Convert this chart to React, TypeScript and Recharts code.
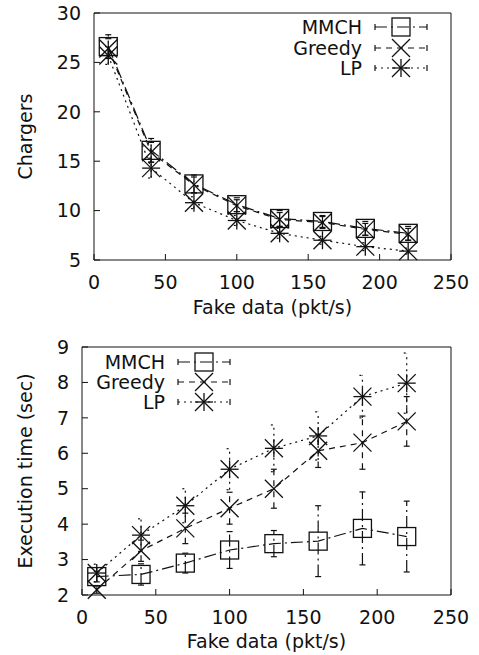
import React from "react";
import { ComposedChart, Line, XAxis, YAxis, ErrorBar, Legend } from "recharts";

// x positions (fake data rate, pkt/s)
const fakeData = [10, 40, 70, 100, 130, 160, 190, 220];

// top panel: number of chargers
const mmchChargers = [26.6, 16.1, 12.7, 10.6, 9.2, 8.9, 8.2, 7.7];
const mmchChargersErr = [1.2, 1.2, 0.9, 0.7, 0.8, 0.6, 0.7, 0.7];
const greedyChargers = [26.4, 15.9, 12.6, 10.5, 9.1, 8.8, 8.1, 7.6];
const greedyChargersErr = [1.0, 1.0, 0.8, 0.6, 0.7, 0.6, 0.6, 0.6];
const lpChargers = [25.7, 14.3, 10.8, 9.0, 7.7, 7.0, 6.35, 5.9];
const lpChargersErr = [0.9, 1.0, 0.6, 0.5, 0.5, 0.4, 0.4, 0.3];

// bottom panel: execution time (sec)
const mmchTime = [2.52, 2.58, 2.9, 3.27, 3.45, 3.52, 3.88, 3.65];
const mmchTimeErr = [0.15, 0.3, 0.28, 0.52, 0.37, 1.0, 1.03, 1.0];
const greedyTime = [2.15, 3.25, 3.88, 4.45, 5.0, 6.07, 6.3, 6.9];
const greedyTimeErr = [0.1, 0.3, 0.43, 0.45, 0.55, 0.47, 0.75, 0.7];
const lpTime = [2.62, 3.69, 4.52, 5.55, 6.14, 6.49, 7.6, 7.98];
const lpTimeErr = [0.25, 0.46, 0.48, 0.58, 0.66, 0.68, 0.6, 0.85];

const xTicks = [0, 50, 100, 150, 200, 250];
const chargerTicks = [5, 10, 15, 20, 25, 30];
const timeTicks = [2, 3, 4, 5, 6, 7, 8, 9];

const FONT = "'DejaVu Sans', sans-serif";
const INK = "#111";

type Kind = "square" | "cross" | "star";

const series: { key: string; name: string; kind: Kind; dash: string }[] = [
  { key: "mmch", name: "MMCH", kind: "square", dash: "12 4 2 4" },
  { key: "greedy", name: "Greedy", kind: "cross", dash: "6 5" },
  { key: "lp", name: "LP", kind: "star", dash: "2 4" },
];

const chargerRows = fakeData.map((x, i) => ({
  x,
  mmch: mmchChargers[i],
  mmchErr: mmchChargersErr[i],
  greedy: greedyChargers[i],
  greedyErr: greedyChargersErr[i],
  lp: lpChargers[i],
  lpErr: lpChargersErr[i],
}));

const timeRows = fakeData.map((x, i) => ({
  x,
  mmch: mmchTime[i],
  mmchErr: mmchTimeErr[i],
  greedy: greedyTime[i],
  greedyErr: greedyTimeErr[i],
  lp: lpTime[i],
  lpErr: lpTimeErr[i],
}));

function Marker({ kind, cx, cy }: { kind: Kind; cx: number; cy: number }) {
  const s = 9;
  if (kind === "square") {
    return (
      <rect x={cx - s} y={cy - s} width={2 * s} height={2 * s} fill="none" stroke={INK} strokeWidth={1.3} />
    );
  }
  const cross = (
    <>
      <line x1={cx - s} y1={cy - s} x2={cx + s} y2={cy + s} stroke={INK} strokeWidth={1.3} />
      <line x1={cx - s} y1={cy + s} x2={cx + s} y2={cy - s} stroke={INK} strokeWidth={1.3} />
    </>
  );
  if (kind === "cross") return <g>{cross}</g>;
  return (
    <g>
      {cross}
      <line x1={cx - s} y1={cy} x2={cx + s} y2={cy} stroke={INK} strokeWidth={1.3} />
      <line x1={cx} y1={cy - s} x2={cx} y2={cy + s} stroke={INK} strokeWidth={1.3} />
    </g>
  );
}

function makeDot(kind: Kind) {
  return (p: any) => {
    if (p.cx == null || p.cy == null) return <g key={`${kind}-${p.index}`} />;
    return (
      <g key={`${kind}-${p.index}`}>
        <Marker kind={kind} cx={p.cx} cy={p.cy} />
      </g>
    );
  };
}

function YLabel({ viewBox, value }: any) {
  const cy = viewBox.y + viewBox.height / 2;
  const cx = 25;
  return (
    <text
      x={cx}
      y={cy}
      transform={`rotate(-90, ${cx}, ${cy})`}
      textAnchor="middle"
      dominantBaseline="central"
      fontFamily={FONT}
      fontSize={19}
      fill={INK}
    >
      {value}
    </text>
  );
}

function KeyBox({ textRight, lineLeft, lineRight, rowY }: { textRight: number; lineLeft: number; lineRight: number; rowY: number[] }) {
  const mid = (lineLeft + lineRight) / 2;
  return (
    <svg width={479} height={90} style={{ display: "block" }}>
      {series.map((s, i) => (
        <g key={s.key}>
          <text
            x={textRight}
            y={rowY[i]}
            textAnchor="end"
            dominantBaseline="central"
            fontFamily={FONT}
            fontSize={19}
            fill={INK}
          >
            {s.name}
          </text>
          <line x1={lineLeft} y1={rowY[i]} x2={lineRight} y2={rowY[i]} stroke={INK} strokeWidth={1.2} strokeDasharray={s.dash} />
          <line x1={lineLeft} y1={rowY[i] - 3} x2={lineLeft} y2={rowY[i] + 3} stroke={INK} strokeWidth={1.2} />
          <line x1={lineRight} y1={rowY[i] - 3} x2={lineRight} y2={rowY[i] + 3} stroke={INK} strokeWidth={1.2} />
          <Marker kind={s.kind} cx={mid} cy={rowY[i]} />
        </g>
      ))}
    </svg>
  );
}

function Panel({
  data,
  yTicks,
  yDomain,
  yLabel,
  height,
  marginTop,
  yAxisWidth,
  legend,
  xLabelOffset,
}: any) {
  return (
    <ComposedChart
      width={479}
      height={height}
      data={data}
      margin={{ top: marginTop - 1, right: 27, bottom: 0, left: 0 }}
    >
      <XAxis
        dataKey="x"
        type="number"
        domain={[0, 250]}
        ticks={xTicks}
        height={60}
        stroke={INK}
        tickSize={-6}
        tickMargin={22}
        tick={{ fontFamily: FONT, fontSize: 19, fill: INK }}
        label={{ value: "Fake data (pkt/s)", position: "insideBottom", offset: xLabelOffset, fontFamily: FONT, fontSize: 19, fill: INK }}
      />
      <XAxis
        xAxisId="mirror"
        orientation="top"
        dataKey="x"
        type="number"
        domain={[0, 250]}
        ticks={xTicks}
        height={1}
        stroke={INK}
        tickSize={-6}
        tick={false}
      />
      <YAxis
        type="number"
        domain={yDomain}
        ticks={yTicks}
        width={yAxisWidth}
        stroke={INK}
        tickSize={-6}
        tickMargin={19}
        tick={{ fontFamily: FONT, fontSize: 19, fill: INK }}
        label={<YLabel value={yLabel} />}
      />
      <YAxis
        yAxisId="mirror"
        orientation="right"
        type="number"
        domain={yDomain}
        ticks={yTicks}
        width={1}
        stroke={INK}
        tickSize={-6}
        tick={false}
      />
      {legend}
      {series.map((s) => (
        <Line
          key={s.key}
          dataKey={s.key}
          name={s.name}
          stroke={INK}
          strokeWidth={1.2}
          strokeDasharray={s.dash}
          dot={makeDot(s.kind)}
          activeDot={false}
          isAnimationActive={false}
        >
          <ErrorBar
            dataKey={`${s.key}Err`}
            direction="y"
            width={3}
            stroke={INK}
            strokeWidth={1.2}
            strokeDasharray={s.dash}
            isAnimationActive={false}
          />
        </Line>
      ))}
    </ComposedChart>
  );
}

export default function App() {
  return (
    <div style={{ position: "absolute", left: 0, top: 0, width: 479, height: 655, background: "#fff" }}>
      <div style={{ position: "absolute", left: 0, top: 0 }}>
        <Panel
          data={chargerRows}
          yTicks={chargerTicks}
          yDomain={[5, 30]}
          yLabel="Chargers"
          height={320}
          marginTop={13}
          yAxisWidth={94}
          xLabelOffset={6}
          legend={
            <Legend
              layout="vertical"
              align="center"
              verticalAlign="middle"
              wrapperStyle={{ position: "absolute", left: 0, top: 0, width: 479, height: 90 }}
              content={() => <KeyBox textRight={362} lineLeft={375} lineRight={427} rowY={[27, 48, 68]} />}
            />
          }
        />
      </div>
      <div style={{ position: "absolute", left: 0, top: 330 }}>
        <Panel
          data={timeRows}
          yTicks={timeTicks}
          yDomain={[2, 9]}
          yLabel="Execution time (sec)"
          height={325}
          marginTop={17}
          yAxisWidth={82}
          xLabelOffset={7}
          legend={
            <Legend
              layout="vertical"
              align="center"
              verticalAlign="middle"
              wrapperStyle={{ position: "absolute", left: 0, top: 0, width: 479, height: 90 }}
              content={() => <KeyBox textRight={165} lineLeft={178} lineRight={230} rowY={[32, 52, 72]} />}
            />
          }
        />
      </div>
    </div>
  );
}
